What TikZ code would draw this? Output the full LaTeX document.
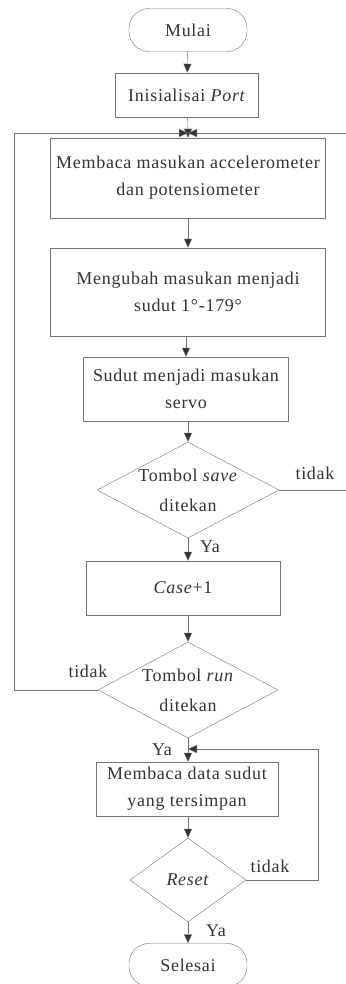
\documentclass[tikz,border=0pt]{standalone}
\usepackage{fontspec}
\setmainfont[LetterSpace=4]{Liberation Serif}
\usetikzlibrary{arrows.meta,shapes.geometric}
\begin{document}
\begin{tikzpicture}[x=1pt, y=1pt,
		every node/.style={font=\fontsize{18}{27}\selectfont, text=black!80},
		terminal/.style={draw=black!55, thin, rounded corners=20pt, minimum width=118, minimum height=43},
		process/.style={draw=black!55, thin, align=center},
		decision/.style={draw=black!55, thin, diamond, inner sep=0pt},
		dtext/.style={align=center, font=\fontsize{18}{30}\selectfont, text=black!80},
		flow/.style={draw=black!55, thin, -{Triangle[width=8pt,length=9pt,fill=black!80]}},
		line/.style={draw=black!55, thin}]
		\useasboundingbox (0,0) rectangle (345,-984);
		\node[terminal] (mulai) at (188,-30) {Mulai};
		\node[process, minimum width=143, minimum height=44] (init) at (187,-95) {Inisialisai \textit{Port}};
		\node[process, minimum width=275, minimum height=80] (baca) at (188,-178) {Membaca masukan accelerometer\\dan potensiometer};
		\node[process, minimum width=275, minimum height=88] (ubah) at (188,-292) {Mengubah masukan menjadi\\sudut 1°-179°};
		\node[process, minimum width=205, minimum height=64] (servo) at (186,-389) {Sudut menjadi masukan\\servo};
		\node[decision, minimum width=182, minimum height=96, label={[dtext]center:Tombol \textit{save}\\ditekan}] (save) at (188,-490) {};
		\node[process, minimum width=194, minimum height=54] (case) at (183,-588) {\textit{Case}+1};
		\node[decision, minimum width=180, minimum height=96, label={[dtext]center:Tombol \textit{run}\\ditekan}] (run) at (188,-690) {};
		\node[process, minimum width=182, minimum height=54] (data) at (187,-789) {Membaca data sudut\\yang tersimpan};
		\node[decision, minimum width=116, minimum height=84, label={[dtext]center:\textit{Reset}}] (reset) at (188,-880) {};
		\node[terminal] (selesai) at (188,-965) {Selesai};
		% titik pertemuan
		\coordinate (m1) at (188,-133);
		\coordinate (m2) at (188,-749);
		\coordinate (kiri1) at (14,-690);
		\coordinate (kiri2) at (14,-133);
		\coordinate (kanan1) at (352,-490);
		\coordinate (kanan2) at (352,-133);
		\coordinate (kanan3) at (318,-880);
		\coordinate (kanan4) at (318,-749);
		\draw[flow] (mulai) -- (init);
		\draw[line] (init) -- (m1);
		\draw[flow] (m1) -- (baca);
		\draw[flow] (baca) -- (ubah);
		\draw[flow] (ubah.south -| servo) -- (servo);
		\draw[flow] (servo.south -| save) -- (save);
		\draw[flow] (save) -- (case.north -| save);
		\draw[flow] (case.south -| run) -- (run);
		\draw[line] (run) -- (m2);
		\draw[flow] (m2) -- (data.north -| m2);
		\draw[flow] (data.south -| reset) -- (reset);
		\draw[flow] (reset) -- (selesai);
		\draw[flow] (save.east) -- (kanan1) -- (kanan2) -- (m1);
		\draw[flow] (run.west) -- (kiri1) -- (kiri2) -- (m1);
		\draw[flow] (reset.east) -- (kanan3) -- (kanan4) -- (m2);
		\node (t1) at (315,-473) {tidak};
		\node (y1) at (210,-547) {Ya};
		\node (t2) at (88,-671) {tidak};
		\node (y2) at (162,-750) {Ya};
		\node (t3) at (270,-866) {tidak};
		\node (y3) at (216,-931) {Ya};
	\end{tikzpicture}
\end{document}
